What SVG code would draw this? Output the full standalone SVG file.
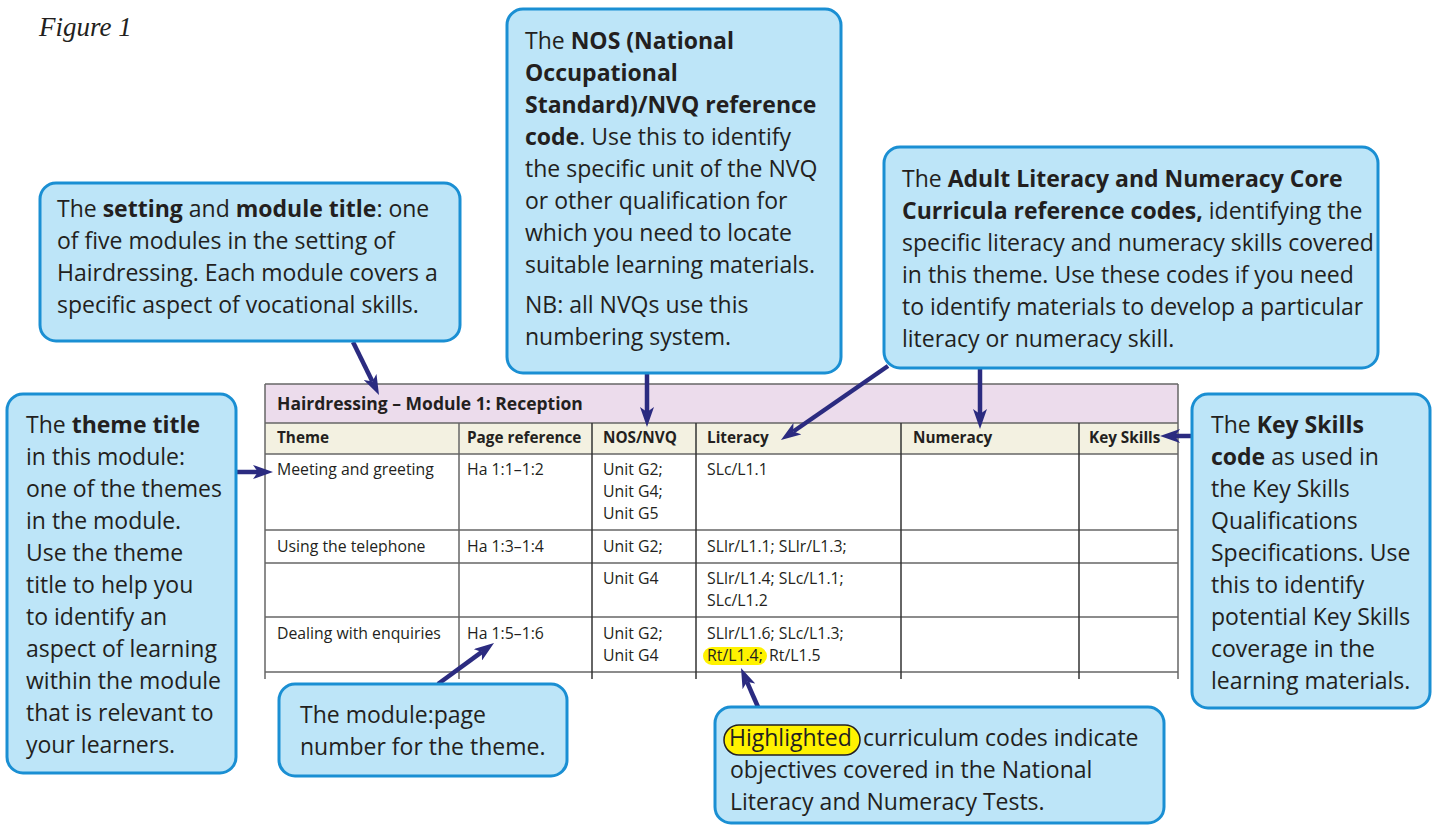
<svg xmlns="http://www.w3.org/2000/svg" width="1433" height="825" viewBox="0 0 1433 825">
<defs>
<style>
.box{fill:#bde5f8;stroke:#1a8fd3;stroke-width:3}
.ct{font-family:"Open Sans","Noto Sans",sans-serif;font-size:23px;fill:#231f20}
.b{font-weight:bold}
.tt{font-family:"Open Sans","Noto Sans",sans-serif;font-size:15.8px;fill:#231f20}
.th{font-family:"Open Sans","Noto Sans",sans-serif;font-size:15.3px;font-weight:bold;fill:#231f20}
.title{font-family:"Open Sans","Noto Sans",sans-serif;font-size:17.5px;font-weight:bold;fill:#231f20}
.hl{stroke:#666;stroke-width:1.5}
.vl{stroke:#333;stroke-width:1.5}
.arr{stroke:#2b2b80;stroke-width:4.5;fill:none;marker-end:url(#ah)}
</style>
<marker id="ah" viewBox="0 0 20 14" refX="5" refY="7" markerWidth="20" markerHeight="14" markerUnits="userSpaceOnUse" orient="auto">
<path d="M0,0 L20,7 L0,14 L5,7 z" fill="#2b2b80"/>
</marker>
</defs>
<rect width="1433" height="825" fill="#ffffff"/>
<text x="39" y="36" font-family="Liberation Serif,serif" font-style="italic" font-size="27" fill="#231f20">Figure 1</text>

<g id="table">
<rect x="265" y="384" width="913" height="39" fill="#ecdcec"/>
<rect x="265" y="423" width="913" height="31" fill="#f3f1e1"/>
<g>
<line class="hl" x1="265" y1="384" x2="1178" y2="384"/>
<line class="hl" x1="265" y1="423" x2="1178" y2="423"/>
<line class="hl" x1="265" y1="454" x2="1178" y2="454"/>
<line class="hl" x1="265" y1="530" x2="1178" y2="530"/>
<line class="hl" x1="265" y1="563" x2="1178" y2="563"/>
<line class="hl" x1="265" y1="617" x2="1178" y2="617"/>
<line class="hl" x1="265" y1="672" x2="1178" y2="672"/>
<line class="hl" x1="265" y1="384" x2="265" y2="679"/>
<line class="hl" x1="1178" y1="384" x2="1178" y2="679"/>
<line class="hl" x1="459" y1="423" x2="459" y2="679"/>
<line class="vl" x1="592" y1="423" x2="592" y2="679"/>
<line class="vl" x1="696" y1="423" x2="696" y2="679"/>
<line class="vl" x1="901" y1="423" x2="901" y2="679"/>
<line class="vl" x1="1079" y1="423" x2="1079" y2="679"/>
</g>
<text class="title" x="277" y="410">Hairdressing – Module 1: Reception</text>
<text class="th" x="277" y="443">Theme</text>
<text class="th" x="467" y="443">Page reference</text>
<text class="th" x="603" y="443">NOS/NVQ</text>
<text class="th" x="707" y="443">Literacy</text>
<text class="th" x="913" y="443">Numeracy</text>
<text class="th" x="1089" y="443">Key Skills</text>
<text class="tt" x="277" y="475">Meeting and greeting</text>
<text class="tt" x="467" y="475">Ha 1:1–1:2</text>
<text class="tt" x="603" y="475">Unit G2;</text>
<text class="tt" x="603" y="497">Unit G4;</text>
<text class="tt" x="603" y="519">Unit G5</text>
<text class="tt" x="707" y="475">SLc/L1.1</text>
<text class="tt" x="277" y="552">Using the telephone</text>
<text class="tt" x="467" y="552">Ha 1:3–1:4</text>
<text class="tt" x="603" y="552">Unit G2;</text>
<text class="tt" x="707" y="552">SLlr/L1.1; SLlr/L1.3;</text>
<text class="tt" x="603" y="584">Unit G4</text>
<text class="tt" x="707" y="584">SLlr/L1.4; SLc/L1.1;</text>
<text class="tt" x="707" y="606">SLc/L1.2</text>
<text class="tt" x="277" y="639">Dealing with enquiries</text>
<text class="tt" x="467" y="639">Ha 1:5–1:6</text>
<text class="tt" x="603" y="639">Unit G2;</text>
<text class="tt" x="603" y="661">Unit G4</text>
<text class="tt" x="707" y="639">SLlr/L1.6; SLc/L1.3;</text>
<rect x="703" y="647" width="64" height="18" rx="9" fill="#fff200"/>
<text class="tt" x="707" y="661">Rt/L1.4;</text>
<text class="tt" x="769" y="661">Rt/L1.5</text>
</g>

<g id="connectors">
<line class="arr" x1="353" y1="342" x2="372.4" y2="381.5"/>
<line class="arr" x1="647" y1="373" x2="647" y2="412"/>
<line class="arr" x1="888" y1="366" x2="793.3" y2="431.5"/>
<line class="arr" x1="980" y1="368" x2="980" y2="414"/>
<line class="arr" x1="1192" y1="436" x2="1175" y2="436"/>
<line class="arr" x1="236" y1="472" x2="258" y2="472"/>
<line class="arr" x1="438" y1="684" x2="481.9" y2="651.9"/>
<line class="arr" x1="758" y1="707" x2="747" y2="681.8"/>
</g>

<g id="setting-box">
<rect class="box" x="40" y="183" width="420" height="158" rx="16"/>
<text class="ct"><tspan x="57" y="217">The <tspan class="b">setting</tspan> and <tspan class="b">module title</tspan>: one</tspan><tspan x="57" y="249">of five modules in the setting of</tspan><tspan x="57" y="281">Hairdressing. Each module covers a</tspan><tspan x="57" y="313">specific aspect of vocational skills.</tspan></text>
</g>

<g id="nos-box">
<rect class="box" x="507" y="9" width="334" height="364" rx="16"/>
<text class="ct"><tspan x="525" y="49">The <tspan class="b">NOS (National</tspan></tspan><tspan x="525" y="81" class="b">Occupational</tspan><tspan x="525" y="113" class="b">Standard)/NVQ reference</tspan><tspan x="525" y="145"><tspan class="b">code</tspan>. Use this to identify</tspan><tspan x="525" y="177">the specific unit of the NVQ</tspan><tspan x="525" y="209">or other qualification for</tspan><tspan x="525" y="241">which you need to locate</tspan><tspan x="525" y="273">suitable learning materials.</tspan><tspan x="525" y="313">NB: all NVQs use this</tspan><tspan x="525" y="345">numbering system.</tspan></text>
</g>

<g id="curricula-box">
<rect class="box" x="884" y="147" width="494" height="221" rx="16"/>
<text class="ct"><tspan x="902" y="187">The <tspan class="b">Adult Literacy and Numeracy Core</tspan></tspan><tspan x="902" y="219"><tspan class="b">Curricula reference codes,</tspan> identifying the</tspan><tspan x="902" y="251">specific literacy and numeracy skills covered</tspan><tspan x="902" y="283">in this theme. Use these codes if you need</tspan><tspan x="902" y="315">to identify materials to develop a particular</tspan><tspan x="902" y="347">literacy or numeracy skill.</tspan></text>
</g>

<g id="theme-box">
<rect class="box" x="7" y="394" width="229" height="379" rx="16"/>
<text class="ct"><tspan x="26" y="433">The <tspan class="b">theme title</tspan></tspan><tspan x="26" y="465">in this module:</tspan><tspan x="26" y="497">one of the themes</tspan><tspan x="26" y="529">in the module.</tspan><tspan x="26" y="561">Use the theme</tspan><tspan x="26" y="593">title to help you</tspan><tspan x="26" y="625">to identify an</tspan><tspan x="26" y="657">aspect of learning</tspan><tspan x="26" y="689">within the module</tspan><tspan x="26" y="721">that is relevant to</tspan><tspan x="26" y="753">your learners.</tspan></text>
</g>

<g id="keyskills-box">
<rect class="box" x="1192" y="394" width="238" height="314" rx="16"/>
<text class="ct"><tspan x="1211" y="433">The <tspan class="b">Key Skills</tspan></tspan><tspan x="1211" y="465"><tspan class="b">code</tspan> as used in</tspan><tspan x="1211" y="497">the Key Skills</tspan><tspan x="1211" y="529">Qualifications</tspan><tspan x="1211" y="561">Specifications. Use</tspan><tspan x="1211" y="593">this to identify</tspan><tspan x="1211" y="625">potential Key Skills</tspan><tspan x="1211" y="657">coverage in the</tspan><tspan x="1211" y="689">learning materials.</tspan></text>
</g>

<g id="page-box">
<rect class="box" x="279" y="684" width="288" height="92" rx="16"/>
<text class="ct"><tspan x="300" y="723">The module:page</tspan><tspan x="300" y="755">number for the theme.</tspan></text>
</g>

<g id="highlight-box">
<rect class="box" x="715" y="707" width="449" height="116" rx="16"/>
<rect x="724" y="725" width="136" height="30" rx="15" fill="#fff200" stroke="#231f20" stroke-width="1.5"/>
<text class="ct" x="729" y="746">Highlighted</text>
<text class="ct"><tspan x="863" y="746">curriculum codes indicate</tspan><tspan x="730" y="778">objectives covered in the National</tspan><tspan x="730" y="810">Literacy and Numeracy Tests.</tspan></text>
</g>
</svg>
